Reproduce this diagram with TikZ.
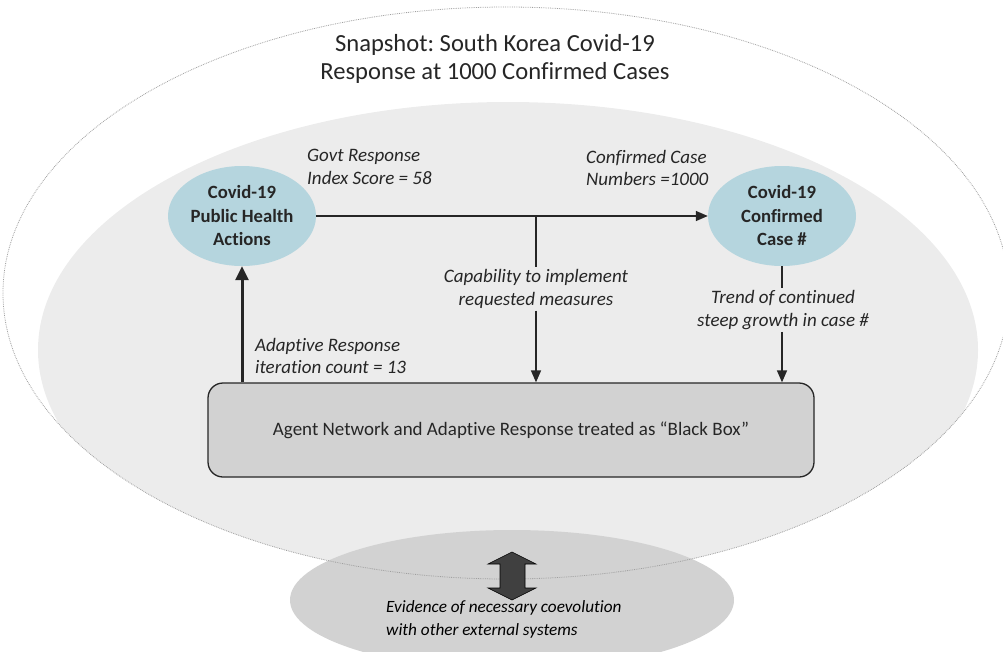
\documentclass[tikz,border=0pt]{standalone}
\usepackage{fontspec}
\setmainfont{Carlito}[Ligatures={NoCommon}]
\usetikzlibrary{shapes.geometric,arrows.meta}
\definecolor{bluefill}{RGB}{181,213,222}
\definecolor{innergray}{RGB}{236,236,236}
\definecolor{lowergray}{RGB}{210,210,210}
\definecolor{boxgray}{RGB}{210,210,210}
\definecolor{darkline}{RGB}{38,38,38}
\definecolor{dblarrow}{RGB}{64,64,64}
\frenchspacing
\begin{document}
\begin{tikzpicture}[x=1pt,y=-1pt,
  blueell/.style={ellipse, fill=bluefill, minimum width=148pt, minimum height=100pt, inner sep=0pt, align=center,
    font=\fontsize{18.7}{23.5}\selectfont\bfseries, text=darkline},
  lbl/.style={align=center, inner sep=2pt, font=\fontsize{19}{22.8}\selectfont\itshape, text=darkline},
  conn/.style={draw=darkline, line width=1.5pt},
  tip/.style={-{Triangle[length=12pt,width=10pt]}},
  blackbox/.style={draw=darkline, line width=1.3pt, fill=boxgray, rounded corners=15pt, minimum width=606pt, minimum height=94pt,
    font=\fontsize{19}{22}\selectfont, text=darkline}
]
\useasboundingbox (0,0) rectangle (1003,651);
\begin{scope}
\clip (0,0) rectangle (1003,651);
\begin{scope}
\clip (506,293) ellipse [x radius=503, y radius=286];
\fill[innergray] (508,350) ellipse [x radius=470, y radius=248];
\end{scope}
\fill[lowergray] (512,600) ellipse [x radius=222, y radius=70];
\draw[gray!75, densely dotted, line width=0.8pt] (506,293) ellipse [x radius=503, y radius=286];
\end{scope}

\node[align=center, font=\fontsize{24.6}{28.5}\selectfont, text=darkline] (title) at (495,59)
  {Snapshot: South Korea Covid-19\\Response at 1000 Confirmed Cases};

\node[blueell] (pha) at (242,216) {Covid-19\\Public Health\\Actions};
\node[blueell] (cc) at (782,216) {Covid-19\\Confirmed\\Case \#};

\node[blackbox] (box) at (511,430) {Agent Network and Adaptive Response treated as “Black Box”};

\node[lbl, anchor=west, align=left] (govt) at (305,167) {Govt Response\\Index Score = 58};
\node[lbl, anchor=west, align=left] (ccn) at (584,168) {Confirmed Case\\Numbers =1000};
\node[lbl] (cap) at (536,289) {Capability to implement\\requested measures};
\node[lbl] (trend) at (783,310) {Trend of continued\\steep growth in case \#};
\node[lbl, anchor=west, align=left] (adapt) at (253,356) {Adaptive Response\\iteration count = 13};

\coordinate (br) at (cap.north |- pha.east);

\draw[conn, tip] (pha.east) -- (cc.west);
\draw[conn] (br) -- (cap.north);
\draw[conn, tip] (cap.south) -- (cap.south |- box.north);
\draw[conn] (cc.south) -- (cc.south |- trend.north);
\draw[conn, tip] (cc.south |- trend.south) -- (cc.south |- box.north);
\draw[draw=darkline, line width=3pt, -{Triangle[length=14pt,width=13pt]}] (pha.south |- box.north) -- (pha.south);

\filldraw[fill=dblarrow, draw=black, line width=0.6pt]
  (512,552) -- (536,564) -- (525,564) -- (525,588) -- (536,588) -- (512,600)
  -- (488,588) -- (500,588) -- (500,564) -- (488,564) -- cycle;

\node[anchor=west, align=left, inner sep=0pt, font=\fontsize{17.2}{23}\selectfont\itshape, text=black] (evid) at (386,619)
  {Evidence of necessary coevolution\\with other external systems};
\end{tikzpicture}
\end{document}
